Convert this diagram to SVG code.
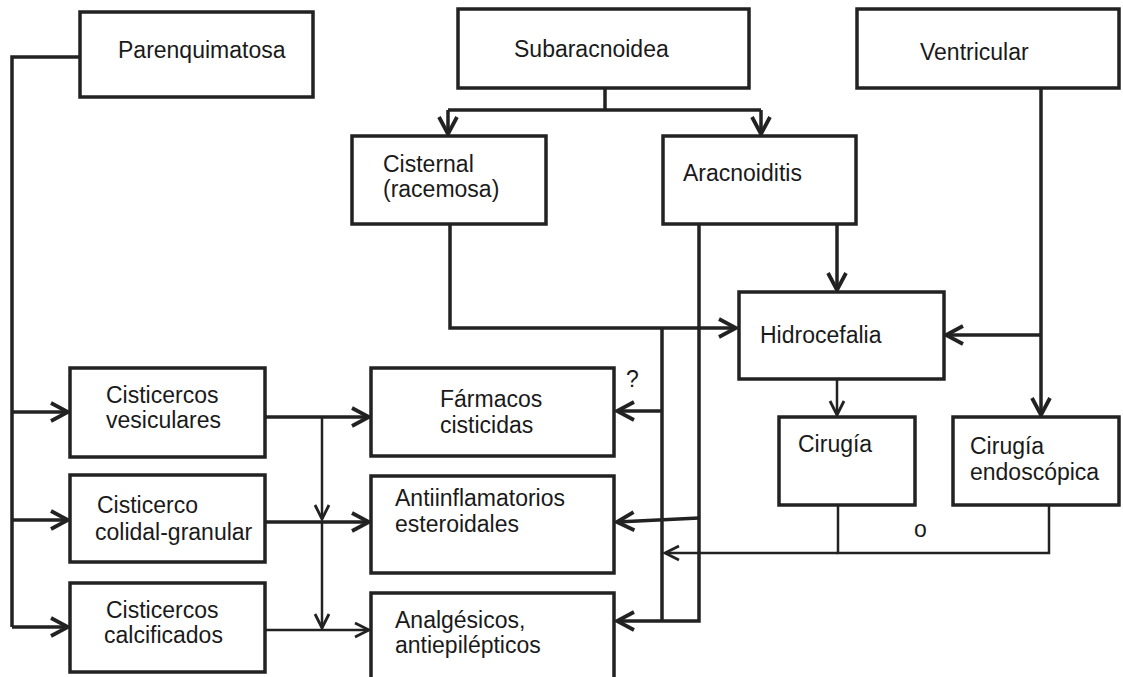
<svg xmlns="http://www.w3.org/2000/svg" width="1123" height="677" viewBox="0 0 1123 677">
<style>
.box{fill:#fff;stroke:#222;stroke-width:3.5}
.t{font-family:"Liberation Sans",Arial,sans-serif;font-size:23px;fill:#1a1a1a}
.ln{fill:none;stroke:#222;stroke-width:3.5;stroke-linejoin:miter}
.thin{fill:none;stroke:#222;stroke-width:2.5}
</style>
<defs>
<marker id="ah" viewBox="0 0 22 22" refX="20" refY="11" markerWidth="22" markerHeight="22" markerUnits="userSpaceOnUse" orient="auto">
<path d="M3,2 L20,11 L3,20" fill="none" stroke="#222" stroke-width="3.8"/>
</marker>
<marker id="ahs" viewBox="0 0 18 18" refX="16" refY="9" markerWidth="18" markerHeight="18" markerUnits="userSpaceOnUse" orient="auto">
<path d="M2,2 L16,9 L2,16" fill="none" stroke="#222" stroke-width="2.8"/>
</marker>
</defs>
<rect width="1123" height="677" fill="#fff"/>

<g id="connectors">
<polyline class="ln" points="80,57 12,57 12,627"/>
<line class="ln" x1="12" y1="412" x2="68" y2="412" marker-end="url(#ah)"/>
<line class="ln" x1="12" y1="520" x2="68" y2="520" marker-end="url(#ah)"/>
<line class="ln" x1="12" y1="627" x2="68" y2="627" marker-end="url(#ah)"/>
<line class="ln" x1="605" y1="88" x2="605" y2="110"/>
<line class="ln" x1="448" y1="110" x2="761" y2="110"/>
<line class="ln" x1="448" y1="110" x2="448" y2="134" marker-end="url(#ah)"/>
<line class="ln" x1="761" y1="110" x2="761" y2="134" marker-end="url(#ah)"/>
<polyline class="ln" points="450,224 450,328 736,328" marker-end="url(#ah)"/>
<line class="ln" x1="837" y1="224" x2="837" y2="290" marker-end="url(#ah)"/>
<line class="ln" x1="1041" y1="88" x2="1041" y2="415" marker-end="url(#ah)"/>
<line class="ln" x1="1041" y1="335" x2="946" y2="335" marker-end="url(#ah)"/>
<line class="thin" x1="837" y1="379" x2="837" y2="415" marker-end="url(#ahs)"/>
<polyline class="thin" points="838,505 838,553 1049,553 1049,505"/>
<line class="thin" x1="838" y1="553" x2="665" y2="553" marker-end="url(#ahs)"/>
<polyline class="ln" points="662,328 662,621"/>
<line class="ln" x1="662" y1="411" x2="617" y2="411" marker-end="url(#ah)"/>
<polyline class="ln" points="699,224 699,621 617,621" marker-end="url(#ah)"/>
<line class="ln" x1="699" y1="518" x2="617" y2="522" marker-end="url(#ah)"/>
<line class="ln" x1="265" y1="417" x2="369" y2="417" marker-end="url(#ah)"/>
<line class="ln" x1="265" y1="522" x2="369" y2="522" marker-end="url(#ah)"/>
<line class="thin" x1="265" y1="630" x2="369" y2="630" marker-end="url(#ahs)"/>
<line class="thin" x1="322" y1="417" x2="322" y2="519" marker-end="url(#ahs)"/>
<line class="thin" x1="322" y1="522" x2="322" y2="628" marker-end="url(#ahs)"/>
</g>

<g id="n-parenquimatosa"><rect class="box" x="80" y="12" width="233" height="85"/><text class="t" x="118" y="58">Parenquimatosa</text></g>
<g id="n-subaracnoidea"><rect class="box" x="458" y="9" width="291" height="79"/><text class="t" x="514" y="57">Subaracnoidea</text></g>
<g id="n-ventricular"><rect class="box" x="857" y="9" width="262" height="79"/><text class="t" x="920" y="60">Ventricular</text></g>
<g id="n-cisternal"><rect class="box" x="352" y="136" width="194" height="88"/><text class="t" x="383" y="172">Cisternal</text><text class="t" x="383" y="197">(racemosa)</text></g>
<g id="n-aracnoiditis"><rect class="box" x="663" y="136" width="193" height="88"/><text class="t" x="683" y="181">Aracnoiditis</text></g>
<g id="n-hidrocefalia"><rect class="box" x="739" y="292" width="205" height="87"/><text class="t" x="760" y="343">Hidrocefalia</text></g>
<g id="n-cirugia"><rect class="box" x="779" y="417" width="136" height="88"/><text class="t" x="798" y="452">Cirugía</text></g>
<g id="n-endoscopica"><rect class="box" x="953" y="417" width="166" height="88"/><text class="t" x="970" y="454">Cirugía</text><text class="t" x="970" y="480">endoscópica</text></g>
<g id="n-vesiculares"><rect class="box" x="70" y="368" width="195" height="89"/><text class="t" x="106" y="403">Cisticercos</text><text class="t" x="106" y="428">vesiculares</text></g>
<g id="n-coloidal"><rect class="box" x="70" y="475" width="195" height="87"/><text class="t" x="97" y="513">Cisticerco</text><text class="t" x="95" y="540">colidal-granular</text></g>
<g id="n-calcificados"><rect class="box" x="70" y="583" width="195" height="89"/><text class="t" x="106" y="618">Cisticercos</text><text class="t" x="104" y="643">calcificados</text></g>
<g id="n-farmacos"><rect class="box" x="371" y="368" width="243" height="88"/><text class="t" x="440" y="407">Fármacos</text><text class="t" x="440" y="433">cisticidas</text></g>
<g id="n-antiinflamatorios"><rect class="box" x="371" y="476" width="243" height="97"/><text class="t" x="395" y="506">Antiinflamatorios</text><text class="t" x="395" y="532">esteroidales</text></g>
<g id="n-analgesicos"><rect class="box" x="371" y="593" width="243" height="95"/><text class="t" x="395" y="628">Analgésicos,</text><text class="t" x="395" y="653">antiepilépticos</text></g>
<text class="t" x="626" y="387">?</text>
<text class="t" x="914" y="537">o</text>
</svg>
